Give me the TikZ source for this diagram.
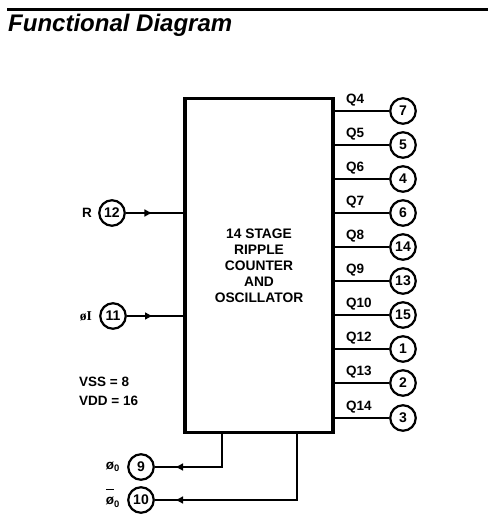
\documentclass[tikz,border=0pt]{standalone}
\usepackage{fontspec}
\setmainfont{Liberation Sans}
\newfontfamily\serifbold{Liberation Serif}
\usetikzlibrary{arrows.meta,decorations.markings}
\tikzset{
    pin/.style={draw, circle, line width=2.2pt, minimum size=25.5pt, inner sep=0pt, font=\bfseries\fontsize{14}{16}\selectfont},
    lbl/.style={inner sep=0pt, font=\bfseries\fontsize{13.5}{16}\selectfont},
    wire/.style={line width=2pt},
    inarrow/.style={wire, postaction={decorate}, decoration={markings, mark=at position #1 with {\arrow{Latex[length=8pt,width=8pt]}}}},
}
\begin{document}
\begin{tikzpicture}[x=1pt, y=-1pt]
    \useasboundingbox (0,0) rectangle (495,532);
    \draw[line width=3pt] (7,10) coordinate (ruleL) -- (488,10) coordinate (ruleR);
    \node[anchor=base west, inner sep=0pt, font=\bfseries\itshape\fontsize{24}{28}\selectfont] (title) at (8,32) {Functional Diagram};
    \node[draw, line width=3.6pt, outer sep=0pt, minimum width=148pt, minimum height=334pt, inner sep=0pt, anchor=north west, align=center, font=\bfseries\fontsize{13.8}{16}\selectfont] (box) at (185,98.5) {14 STAGE\\RIPPLE\\COUNTER\\AND\\OSCILLATOR};
    % outputs on the right
    \foreach \pinnum/\outname/\y in {7/Q4/111, 5/Q5/145, 4/Q6/179, 6/Q7/213, 14/Q8/247, 13/Q9/281, 15/Q10/315, 1/Q12/349, 2/Q13/383, 3/Q14/418}{%
        \node[pin] (n\pinnum) at (403,\y) {\pinnum};
        \node[lbl, anchor=west] (l\pinnum) at (346,\y-11) {\outname};
        \draw[wire] (box.east |- n\pinnum) -- (n\pinnum);
    }
    % inputs on the left
    \node[pin] (n12) at (112,213) {12};
    \node[pin] (n11) at (113,316) {11};
    \node[lbl, anchor=east] (lR) at (92,213) {R};
    \node[lbl, anchor=east] (lI) at (92,316) {\serifbold øI};
    \draw[inarrow=0.45] (n12) -- (box.west |- n12);
    \draw[inarrow=0.45] (n11) -- (box.west |- n11);
    \node[lbl, anchor=west] (vss) at (79,382) {VSS = 8};
    \node[lbl, anchor=west] (vdd) at (79,401) {VDD = 16};
    % clock outputs
    \node[pin] (n9) at (141,467) {9};
    \node[pin] (n10) at (141,500) {10};
    \node[lbl, anchor=east] (l9) at (120,467) {ø\textsubscript{0}};
    \node[lbl, anchor=east] (l10) at (120,498) {$\overline{\mbox{\rule{0pt}{14pt}ø}}$\textsubscript{0}};
    \coordinate (c9) at (222,433);
    \coordinate (c10) at (297,433);
    \draw[wire] (c9) |- (182,467) coordinate (a9);
    \draw[wire] (c10) |- (182,500) coordinate (a10);
    \draw[wire, -{Latex[length=8pt,width=8pt]}] (a9) -- (175,467);
    \draw[wire, -{Latex[length=8pt,width=8pt]}] (a10) -- (175,500);
    \draw[wire] (a9) -- (n9);
    \draw[wire] (a10) -- (n10);
\end{tikzpicture}
\end{document}
